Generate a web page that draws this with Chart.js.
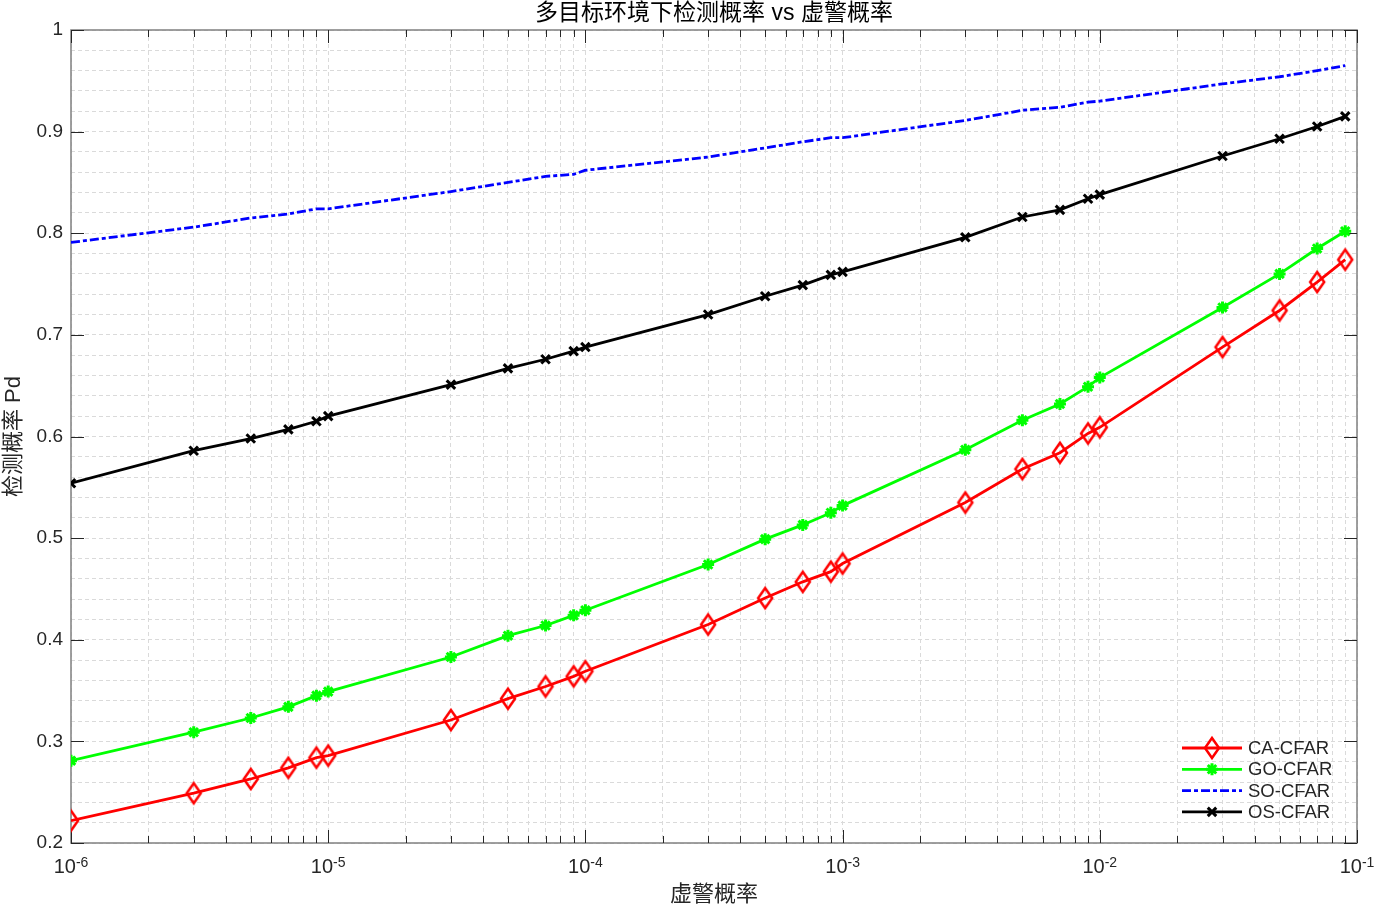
<!DOCTYPE html>
<html>
<head>
<meta charset="utf-8">
<script src="https://cdn.jsdelivr.net/npm/chart.js@4.4.0/dist/chart.umd.min.js"></script>
<style>
  html, body { margin: 0; padding: 0; background: #fff; }
</style>
</head>
<body>
<canvas id="grafico" width="1375" height="908"></canvas>
<script>
// Dados do gráfico (Pfa em escala log)
const pfa = [1e-6, 3e-6, 5e-6, 7e-6, 9e-6, 1e-5, 3e-5, 5e-5, 7e-5, 9e-5,
             1e-4, 3e-4, 5e-4, 7e-4, 9e-4, 1e-3, 3e-3, 5e-3, 7e-3, 9e-3,
             1e-2, 3e-2, 5e-2, 7e-2, 9e-2];
const seriesNames = ['CA-CFAR', 'GO-CFAR', 'SO-CFAR', 'OS-CFAR'];
const pdCA = [0.222, 0.249, 0.263, 0.274, 0.284, 0.286, 0.321, 0.342, 0.354, 0.364,
              0.369, 0.415, 0.441, 0.457, 0.467, 0.475, 0.535, 0.568, 0.584, 0.603,
              0.609, 0.688, 0.724, 0.752, 0.774];
const pdGO = [0.281, 0.309, 0.323, 0.334, 0.345, 0.349, 0.383, 0.404, 0.414, 0.424,
              0.429, 0.474, 0.499, 0.513, 0.525, 0.532, 0.587, 0.616, 0.632, 0.649,
              0.658, 0.727, 0.760, 0.785, 0.802];
const pdSO = [0.791, 0.806, 0.815, 0.819, 0.824, 0.824, 0.841, 0.850, 0.856, 0.858,
              0.862, 0.875, 0.884, 0.890, 0.894, 0.894, 0.911, 0.921, 0.924, 0.929,
              0.930, 0.947, 0.954, 0.960, 0.965];
const pdOS = [0.554, 0.586, 0.598, 0.607, 0.615, 0.620, 0.651, 0.667, 0.676, 0.684,
              0.688, 0.720, 0.738, 0.749, 0.759, 0.762, 0.796, 0.816, 0.823, 0.834,
              0.838, 0.876, 0.893, 0.905, 0.915];
const xDecades = [-6, -5, -4, -3, -2, -1];
const yTickLabels = ['0.2', '0.3', '0.4', '0.5', '0.6', '0.7', '0.8', '0.9', '1'];

const titulo = '多目标环境下检测概率 vs 虚警概率';
const tituloX = '虚警概率';
const tituloY = '检测概率 Pd';

const FONTE = '"Liberation Sans", "Noto Sans CJK SC", sans-serif';
const corTexto = '#262626';

function pontos(ys) {
  return pfa.map((x, i) => ({ x: x, y: ys[i] }));
}

// Losango estilo MATLAB (um pouco mais alto que largo)
function losango() {
  const c = document.createElement('canvas');
  c.width = 20; c.height = 26;
  const g = c.getContext('2d');
  g.strokeStyle = '#ff0000';
  g.lineWidth = 2.5;
  g.beginPath();
  g.moveTo(10, 3); g.lineTo(17, 13); g.lineTo(10, 23); g.lineTo(3, 13);
  g.closePath();
  g.stroke();
  return c;
}
const marcadorCA = losango();

// Plugin: caixa, marcas, textos e legenda no estilo MATLAB
const estiloMatlab = {
  id: 'estiloMatlab',
  beforeDatasetsDraw(chart) {
    const { ctx, chartArea: a, scales } = chart;
    ctx.save();
    ctx.strokeStyle = '#888888';
    ctx.lineWidth = 1.6;
    ctx.setLineDash([]);
    ctx.strokeRect(a.left, a.top, a.right - a.left, a.bottom - a.top);
    // marcas no eixo x (dentro)
    ctx.strokeStyle = '#262626';
    ctx.lineWidth = 1;
    ctx.beginPath();
    for (const t of scales.x.ticks) {
      const px = Math.round(scales.x.getPixelForValue(t.value)) + 0.5;
      const len = t.major ? 13 : 7;
      ctx.moveTo(px, a.bottom); ctx.lineTo(px, a.bottom - len);
      ctx.moveTo(px, a.top); ctx.lineTo(px, a.top + len);
    }
    // marcas no eixo y
    for (let i = 0; i < yTickLabels.length; i++) {
      const py = Math.round(scales.y.getPixelForValue(parseFloat(yTickLabels[i]))) + 0.5;
      ctx.moveTo(a.left, py); ctx.lineTo(a.left + 13, py);
      ctx.moveTo(a.right, py); ctx.lineTo(a.right - 13, py);
    }
    ctx.stroke();
    ctx.restore();
  },
  afterDraw(chart) {
    const { ctx, chartArea: a, scales } = chart;
    ctx.save();
    // título
    ctx.fillStyle = '#000';
    ctx.font = '23px ' + FONTE;
    ctx.textAlign = 'center';
    ctx.textBaseline = 'middle';
    ctx.fillText(titulo, (a.left + a.right) / 2, 14);
    // título eixo x
    ctx.fillStyle = corTexto;
    ctx.font = '22px ' + FONTE;
    ctx.fillText(tituloX, (a.left + a.right) / 2, 895);
    // título eixo y
    ctx.save();
    ctx.translate(14, (a.top + a.bottom) / 2);
    ctx.rotate(-Math.PI / 2);
    ctx.fillText(tituloY, 0, 0);
    ctx.restore();
    // rótulos y
    ctx.font = '19px ' + FONTE;
    ctx.textAlign = 'right';
    for (const lab of yTickLabels) {
      ctx.fillText(lab, a.left - 8, scales.y.getPixelForValue(parseFloat(lab)));
    }
    // rótulos x: 10 com expoente
    ctx.textAlign = 'left';
    ctx.textBaseline = 'alphabetic';
    for (const d of xDecades) {
      const px = scales.x.getPixelForValue(Math.pow(10, d));
      ctx.font = '20px ' + FONTE;
      const wBase = ctx.measureText('10').width;
      ctx.font = '14px ' + FONTE;
      const exp = '-' + Math.abs(d);
      const wExp = ctx.measureText(exp).width;
      const x0 = px - (wBase + wExp) / 2;
      ctx.font = '20px ' + FONTE;
      ctx.fillText('10', x0, a.bottom + 30);
      ctx.font = '14px ' + FONTE;
      ctx.fillText(exp, x0 + wBase, a.bottom + 24);
    }
    // legenda
    const lx0 = 1182, lx1 = 1242, ly0 = 748, passo = 21.3;
    chart.data.datasets.forEach((ds, i) => {
      const y = ly0 + i * passo;
      ctx.strokeStyle = ds.borderColor;
      ctx.lineWidth = ds.borderWidth;
      ctx.setLineDash(ds.borderDash || []);
      ctx.beginPath();
      ctx.moveTo(lx0, y); ctx.lineTo(lx1, y);
      ctx.stroke();
      ctx.setLineDash([]);
      if (ds.pointRadius > 0) {
        ctx.fillStyle = ds.pointBackgroundColor;
        ctx.strokeStyle = ds.pointBorderColor;
        ctx.lineWidth = ds.pointBorderWidth;
        Chart.helpers.drawPoint(ctx, {
          pointStyle: ds.pointStyle, radius: ds.pointRadius,
          borderWidth: ds.pointBorderWidth, rotation: 0
        }, (lx0 + lx1) / 2, y);
      }
      ctx.fillStyle = corTexto;
      ctx.font = '18.5px ' + FONTE;
      ctx.textAlign = 'left';
      ctx.textBaseline = 'middle';
      ctx.fillText(seriesNames[i], 1248, y + 1);
    });
    ctx.restore();
  }
};

const grade = { color: '#dadada', lineWidth: 1, drawTicks: false };

new Chart(document.getElementById('grafico').getContext('2d'), {
  type: 'line',
  data: {
    datasets: [{
      label: seriesNames[0],
      data: pontos(pdCA),
      borderColor: '#ff0000',
      borderWidth: 2.8,
      pointStyle: marcadorCA,
      pointRadius: 8,
      pointBorderColor: '#ff0000',
      pointBackgroundColor: 'rgba(0,0,0,0)',
      pointBorderWidth: 2.5
    }, {
      label: seriesNames[1],
      data: pontos(pdGO),
      borderColor: '#00ff00',
      borderWidth: 2.8,
      pointStyle: 'star',
      pointRadius: 6,
      pointBorderColor: '#00ff00',
      pointBackgroundColor: '#00ff00',
      pointBorderWidth: 3
    }, {
      label: seriesNames[2],
      data: pontos(pdSO),
      borderColor: '#0000ff',
      borderWidth: 2.8,
      borderDash: [9, 3, 4, 3],
      pointRadius: 0
    }, {
      label: seriesNames[3],
      data: pontos(pdOS),
      borderColor: '#000000',
      borderWidth: 2.8,
      pointStyle: 'crossRot',
      pointRadius: 6,
      pointBorderColor: '#000000',
      pointBackgroundColor: '#000000',
      pointBorderWidth: 3
    }]
  },
  options: {
    responsive: false,
    animation: false,
    layout: { padding: { left: 71, right: 18, top: 30, bottom: 65 } },
    plugins: {
      legend: { display: false },
      title: { display: false },
      tooltip: { enabled: false }
    },
    elements: { line: { tension: 0 } },
    scales: {
      x: {
        type: 'logarithmic',
        min: 1e-6,
        max: 1e-1,
        ticks: { display: false },
        grid: grade,
        border: { display: false, dash: [4, 3] },
        afterBuildTicks(scale) {
          const t = [];
          for (let e = -6; e <= -1; e++) {
            for (let m = 1; m <= 9; m++) {
              const v = m * Math.pow(10, e);
              if (v > 1e-1 * 1.0001) break;
              t.push({ value: v, major: m === 1 });
            }
          }
          scale.ticks = t;
        },
        afterFit(scale) { scale.height = 0; }
      },
      y: {
        min: 0.2,
        max: 1,
        ticks: { display: false, stepSize: 0.02 },
        grid: grade,
        border: { display: false, dash: [4, 3] },
        afterFit(scale) { scale.width = 0; }
      }
    }
  },
  plugins: [estiloMatlab]
});
</script>
</body>
</html>
